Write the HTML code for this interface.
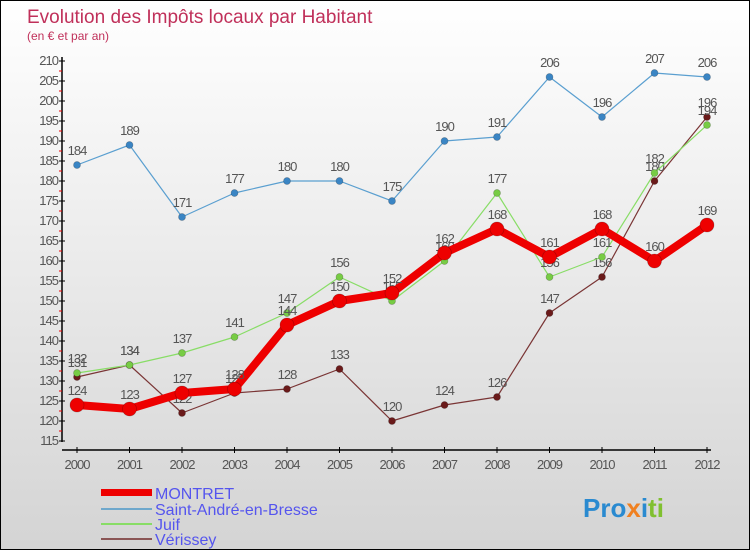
<!DOCTYPE html>
<html><head><meta charset="utf-8"><style>
body{margin:0;}
#c{width:748px;height:548px;border:1px solid #000;background:linear-gradient(#fff,#d4d4d4);position:relative;overflow:hidden;font-family:"Liberation Sans",sans-serif;}
</style></head><body>
<div id="c">
<svg width="748" height="548" id="s" style="position:absolute;left:0;top:0">
<text x="26" y="22" font-size="19" fill="#c0305a">Evolution des Impôts locaux par Habitant</text>
<text x="26" y="39" font-size="12" fill="#c0305a">(en € et par an)</text>
<g id="axes"></g><g id="series"></g>
<g>
<rect x="100" y="488" width="51" height="7" fill="#e00"/>
<text x="154" y="498" font-size="16" fill="#55e">MONTRET</text>
<rect x="100" y="507" width="51" height="2" fill="#6fa8cc"/>
<text x="154" y="514" font-size="16" fill="#55e">Saint-André-en-Bresse</text>
<rect x="100" y="522" width="51" height="2" fill="#88dd66"/>
<text x="154" y="529" font-size="16" fill="#55e">Juif</text>
<rect x="100" y="537" width="51" height="2" fill="#8a5555"/>
<text x="154" y="544" font-size="16" fill="#55e">Vérissey</text>
</g>
<text x="582" y="516" font-size="26" font-weight="bold"><tspan fill="#2a8ad0">Pro</tspan><tspan fill="#f08020">x</tspan><tspan fill="#2a8ad0">i</tspan><tspan fill="#80c030">ti</tspan></text>
</svg></div>
<script>
const years=[2000,2001,2002,2003,2004,2005,2006,2007,2008,2009,2010,2011,2012];
const montret=[124,123,127,128,144,150,152,162,168,161,168,160,169];
const saintAndre=[184,189,171,177,180,180,175,190,191,206,196,207,206];
const juif=[132,134,137,141,147,156,150,160,177,156,161,182,194];
const verissey=[131,134,122,127,128,133,120,124,126,147,156,180,196];
const yTicks=[115,120,125,130,135,140,145,150,155,160,165,170,175,180,185,190,195,200,205,210];
const NS="http://www.w3.org/2000/svg";
const X=i=>76+i*52.5, Y=v=>60+(210-v)*4;
function mk(t,a,p){const e=document.createElementNS(NS,t);for(const k in a)e.setAttribute(k,a[k]);p.appendChild(e);return e;}
const ax=document.getElementById('axes');
let l=mk('line',{x1:61,y1:56,x2:61,y2:441,stroke:'#000','stroke-width':1.5},ax);


l=mk('line',{x1:61,y1:449,x2:710,y2:449,stroke:'#000','stroke-width':1.5},ax);


yTicks.forEach(v=>{mk('line',{x1:58,y1:Y(v),x2:64,y2:Y(v),stroke:'#000'},ax);
 if(v<210)mk('line',{x1:58,y1:Y(v+2.5),x2:61,y2:Y(v+2.5),stroke:'#e00'},ax);
 const t=mk('text',{x:57,y:Y(v)+4,'font-size':13,'text-anchor':'end',fill:'#555','letter-spacing':'-1'},ax);t.textContent=v;
 
 });
years.forEach((y,i)=>{mk('line',{x1:X(i),y1:446,x2:X(i),y2:452,stroke:'#000'},ax);
 const t=mk('text',{x:X(i),y:468,'font-size':13,'text-anchor':'middle',fill:'#555','letter-spacing':'-1'},ax);t.textContent=y;
 
 });
const sg=document.getElementById('series');
function draw(d,col,w,r,dot,name){const g=mk('g',{},sg);
 
 
 mk('polyline',{points:d.map((v,i)=>X(i)+','+Y(v)).join(' '),fill:'none',stroke:col,'stroke-width':w,'stroke-linejoin':'round'},g);
 d.forEach((v,i)=>{const c=mk('circle',{cx:X(i),cy:Y(v),r:r,fill:dot,stroke:'rgba(0,0,0,0.25)','stroke-width':0.7},g);
  
  
  const t=mk('text',{x:X(i),y:Y(v)-10,'font-size':13,'text-anchor':'middle',fill:'#555','letter-spacing':'-1'},g);t.textContent=v;
  
  });}
draw(saintAndre,'#5a9fd0',1.2,3.5,'#3a85c4','series-saint-andre');
draw(verissey,'#7a3535',1.2,3.5,'#6a1a1a','series-verissey');
draw(juif,'#88dd66',1.2,3.5,'#77cc44','series-juif');
draw(montret,'#ee0000',8,7,'#ee0000','series-montret');
</script></body></html>
